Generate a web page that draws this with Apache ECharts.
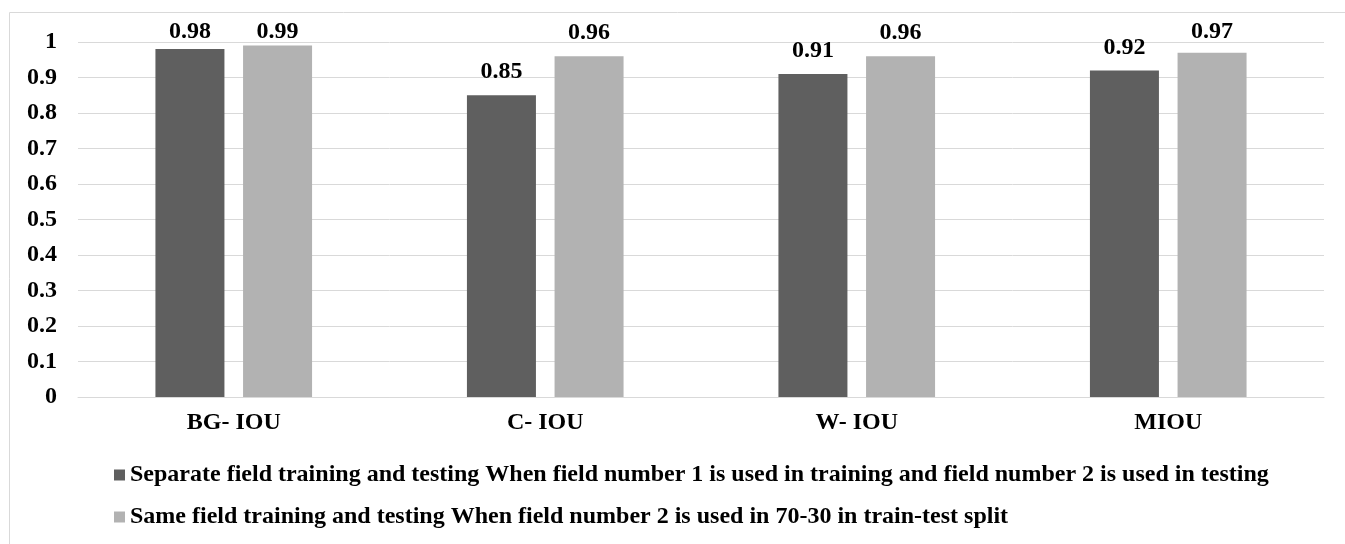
<!DOCTYPE html>
<html><head><meta charset="utf-8">
<script src="https://cdn.jsdelivr.net/npm/echarts@6/dist/echarts.min.js"></script>
<style>html,body{margin:0;padding:0;background:#fff}#c{width:1345px;height:544px}</style>
</head><body><div id="c"></div>
<script>
var categories = ['BG- IOU', 'C- IOU', 'W- IOU', 'MIOU'];
var seriesNames = [
  'Separate field training and testing When field number 1 is used in training and field number 2 is used in testing',
  'Same field training and testing When field number 2 is used in 70-30 in train-test split'
];
var separateValues = [0.98, 0.85, 0.91, 0.92];
var sameValues = [0.99, 0.96, 0.96, 0.97];
var yTicks = [0, 0.1, 0.2, 0.3, 0.4, 0.5, 0.6, 0.7, 0.8, 0.9, 1];

var FONT = '"Liberation Serif", "Times New Roman", serif';
var chart = echarts.init(document.getElementById('c'));
var labelStyle = {show: true, position: 'top', distance: 11, fontFamily: FONT, fontWeight: 'bold', fontSize: 24, color: '#000'};
chart.setOption({
  animation: false,
  graphic: [{type: 'rect', shape: {x: 9.5, y: 12.5, width: 1340, height: 540}, style: {fill: 'none', stroke: '#d9d9d9', lineWidth: 1}, z: -1}],
  grid: {left: 78, right: 21, top: 42, bottom: 147},
  legend: {
    orient: 'vertical', left: 109, top: 458, itemWidth: 11, itemHeight: 11, itemGap: 18,
    textStyle: {fontFamily: FONT, fontWeight: 'bold', fontSize: 24, color: '#000'},
    data: [{name: seriesNames[0], icon: 'rect'}, {name: seriesNames[1], icon: 'rect'}]
  },
  xAxis: {
    type: 'category', data: categories,
    axisLine: {lineStyle: {color: '#d9d9d9', width: 1}}, axisTick: {show: false},
    axisLabel: {margin: 14, fontFamily: FONT, fontWeight: 'bold', fontSize: 24, color: '#000'}
  },
  yAxis: {
    type: 'value', min: 0, max: 1, interval: 0.1,
    axisLine: {show: false}, axisTick: {show: false},
    splitLine: {lineStyle: {color: '#d9d9d9', width: 1}},
    axisLabel: {margin: 21, fontFamily: FONT, fontWeight: 'bold', fontSize: 24, color: '#000',
      formatter: function (v) { var t = yTicks.find(function (x) { return Math.abs(x - v) < 1e-9; }); return t === undefined ? '' : String(t); }}
  },
  labelLayout: function (params) {
    var r = params.labelRect;
    if (r.y < 20) { return {x: r.x, y: 20, align: 'left', verticalAlign: 'top'}; }
    return {};
  },
  series: [
    {name: seriesNames[0], type: 'bar', data: separateValues, barWidth: 69, barGap: '27%', itemStyle: {color: '#5f5f5f'}, label: labelStyle},
    {name: seriesNames[1], type: 'bar', data: sameValues, barWidth: 69, barGap: '27%', itemStyle: {color: '#b2b2b2'}, label: labelStyle}
  ]
});
</script></body></html>
